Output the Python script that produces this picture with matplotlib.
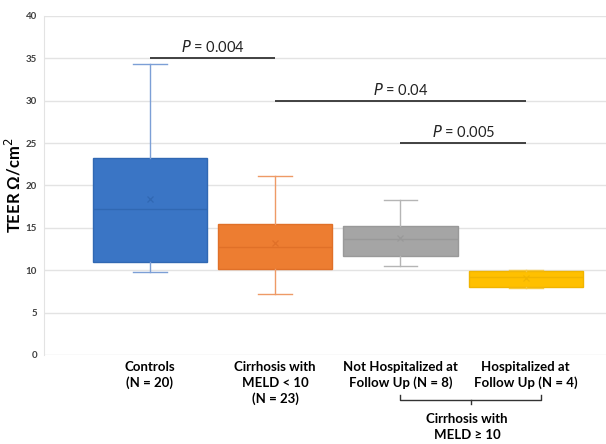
import matplotlib
matplotlib.use("Agg")
import matplotlib.pyplot as plt

# Group labels and summary statistics (TEER, Ω/cm²)
groups = ["Controls\n(N = 20)", "Cirrhosis with\nMELD < 10\n(N = 23)",
          "Not Hospitalized at\nFollow Up (N = 8)", "Hospitalized at\nFollow Up (N = 4)"]
whisker_low = [9.8, 7.2, 10.55, 7.85]
q1 = [11.0, 10.2, 11.7, 8.05]
median = [17.2, 12.7, 13.65, 9.15]
mean = [18.4, 13.2, 13.85, 9.1]
q3 = [23.3, 15.45, 15.2, 9.95]
whisker_high = [34.3, 21.1, 18.25, 10.0]

fill_colors = ["#3a75c5", "#ed7d31", "#a5a5a5", "#ffc000"]
edge_colors = ["#3068b3", "#e07028", "#999999", "#f0b400"]
whisker_colors = ["#7c9fd6", "#ee9a66", "#b5b5b5", "#f5c842"]

# Significance brackets: (left group, right group, y level, label)
comparisons = [(0, 1, 35.0, "0.004"), (1, 3, 30.0, "0.04"), (2, 3, 25.0, "0.005")]

yticks = [0, 5, 10, 15, 20, 25, 30, 35, 40]

font = "Lato"
fig = plt.figure(figsize=(6.06, 4.44), dpi=100)
ax = fig.add_axes([0.0726, 0.2005, 0.9274, 0.7635])

stats = []
for i in range(len(groups)):
    stats.append(dict(whislo=whisker_low[i], q1=q1[i], med=median[i], mean=mean[i],
                      q3=q3[i], whishi=whisker_high[i], fliers=[]))

positions = list(range(len(groups)))
bp = ax.bxp(stats, positions=positions, widths=0.91, patch_artist=True,
            showmeans=True, showfliers=False, zorder=3)
for i in range(len(groups)):
    bp["boxes"][i].set(facecolor=fill_colors[i], edgecolor=edge_colors[i], linewidth=1.0)
    bp["medians"][i].set(color=edge_colors[i], linewidth=1.0)
    bp["means"][i].set(marker="x", markeredgecolor=edge_colors[i], markersize=5,
                       markeredgewidth=0.9)
    for w in bp["whiskers"][2 * i:2 * i + 2]:
        w.set(color=whisker_colors[i], linewidth=1.0)
    for c in bp["caps"][2 * i:2 * i + 2]:
        c.set(color=whisker_colors[i], linewidth=1.0)
        xd = c.get_xdata()
        cx = (xd[0] + xd[1]) / 2
        c.set_xdata([cx - 0.135, cx + 0.135])

ax.set_xlim(-0.845, 3.64)
ax.set_ylim(0, 40)
ax.set_yticks(yticks)
ax.set_yticklabels([str(t) for t in yticks], fontsize=7, fontweight="bold",
                   color="#404040", family=font)
ax.tick_params(axis="y", length=0, pad=5)
ax.set_xticks(positions)
ax.set_xticklabels(groups, fontsize=9.5, fontweight="bold", family=font,
                   linespacing=1.4, va="top")
ax.tick_params(axis="x", length=0, pad=4)
ax.grid(axis="y", color="#e3e3e3", linewidth=1.0, zorder=0)
for s in ["top", "right", "bottom"]:
    ax.spines[s].set_visible(False)
ax.spines["left"].set_color("#e3e3e3")
ax.set_ylabel("TEER Ω/cm$^2$", fontsize=12, fontweight="bold", family=font)
ax.yaxis.set_label_coords(-0.036, 0.5)

for a, b, y, p in comparisons:
    ax.plot([a, b], [y, y], color="#333333", linewidth=1.3, zorder=4, solid_capstyle="butt")
    ax.text((a + b) / 2, y + 0.35, f"$\\it{{P}}$ = {p}", ha="center", va="bottom",
            fontsize=10.5, family=font, color="#222222")

# Bracket grouping the two MELD >= 10 subgroups below the axis
tr = ax.get_xaxis_transform()
y_top, y_bot = -0.118, -0.133
ax.plot([2.0, 2.0, 3.12, 3.12], [y_top, y_bot, y_bot, y_top], transform=tr,
        color="#333333", linewidth=1.0, clip_on=False)
ax.plot([2.56, 2.56], [y_bot, y_bot - 0.012], transform=tr, color="#333333",
        linewidth=1.0, clip_on=False)
ax.text(2.53, -0.17, "Cirrhosis with\nMELD ≥ 10", transform=tr, ha="center", va="top",
        fontsize=9.5, fontweight="bold", family=font, linespacing=1.4)

fig.savefig("out.png", dpi=100)
